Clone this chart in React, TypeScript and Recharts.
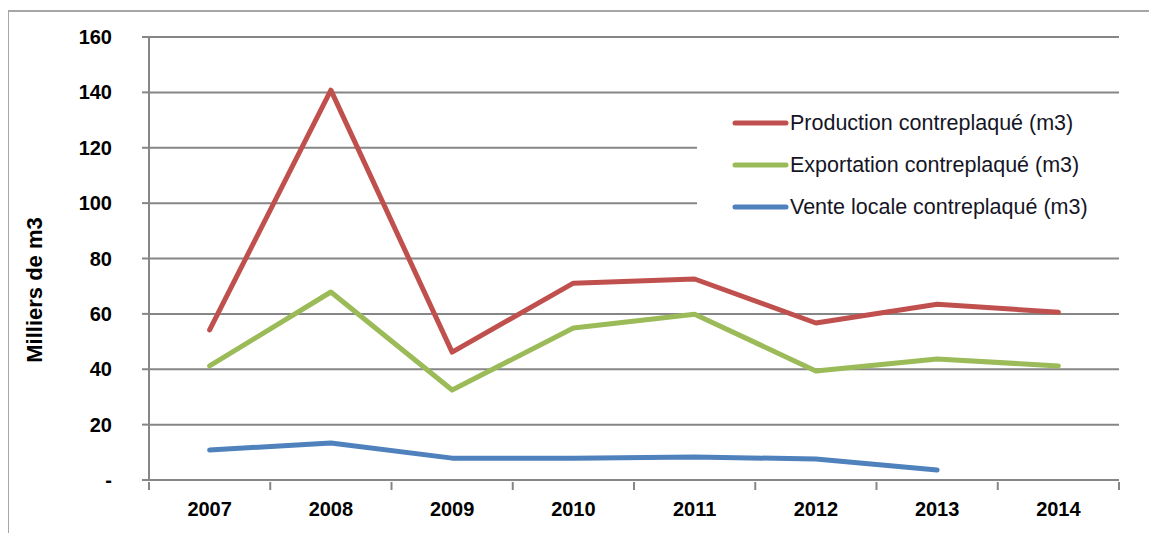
import React from 'react'
import { LineChart, Line, XAxis, YAxis, CartesianGrid, Legend } from 'recharts'

const years = [2007, 2008, 2009, 2010, 2011, 2012, 2013, 2014]
const production = [54.2, 140.8, 46.2, 71.1, 72.6, 56.7, 63.5, 60.6]
const exportation = [41.2, 67.9, 32.5, 54.9, 59.9, 39.4, 43.7, 41.2]
const venteLocale: (number | null)[] = [10.8, 13.4, 7.9, 7.9, 8.3, 7.6, 3.6, null]
const yTicks = [0, 20, 40, 60, 80, 100, 120, 140, 160]
const seriesNames = [
  'Production contreplaqué (m3)',
  'Exportation contreplaqué (m3)',
  'Vente locale contreplaqué (m3)',
]

const data = years.map((year, i) => ({
  year,
  production: production[i],
  exportation: exportation[i],
  vente: venteLocale[i],
}))

const GRID = '#868686'
const FONT = '"Liberation Sans", Arial, sans-serif'

// year label in the middle of each band, tick marks on the band edges (Excel style)
function YearTick(props: any) {
  const { x, y, payload, width, visibleTicksCount, index } = props
  const band = width / visibleTicksCount
  const left = x - band / 2
  return (
    <g>
      <line x1={left} y1={y} x2={left} y2={y + 8} stroke={GRID} strokeWidth={2} />
      {index === visibleTicksCount - 1 && (
        <line x1={left + band} y1={y} x2={left + band} y2={y + 8} stroke={GRID} strokeWidth={2} />
      )}
      <text
        x={x}
        y={y + 20}
        dy="0.71em"
        textAnchor="middle"
        fontFamily={FONT}
        fontSize={20}
        fontWeight="bold"
        fill="#000"
      >
        {payload.value}
      </text>
    </g>
  )
}

function LegendBox({ payload }: any) {
  const items = seriesNames
    .map((n) => (payload || []).find((p: any) => p.value === n))
    .filter(Boolean)
  return (
    <div style={{ paddingTop: 2 }}>
      {items.map((p: any) => (
        <div
          key={p.value}
          style={{ display: 'flex', alignItems: 'center', height: 42 }}
        >
          <svg width={93} height={10} style={{ display: 'block' }}>
            <line
              x1={38}
              y1={5}
              x2={89}
              y2={5}
              stroke={p.color}
              strokeWidth={5}
              strokeLinecap="round"
            />
          </svg>
          <span
            style={{
              fontFamily: FONT,
              fontSize: 21.5,
              color: '#151525',
              whiteSpace: 'nowrap',
            }}
          >
            {p.value}
          </span>
        </div>
      ))}
    </div>
  )
}

export default function App() {
  return (
    <div
      style={{
        position: 'relative',
        left: -8,
        top: -8,
        width: 1157,
        height: 533,
        overflow: 'hidden',
        background: '#fff',
      }}
    >
      <div
        style={{
          position: 'absolute',
          left: 7,
          top: 10,
          width: 1300,
          height: 700,
          border: '2px solid #a6a6a6',
        }}
      />
      <div style={{ position: 'absolute', left: 0, top: 0 }}>
        <LineChart
          width={1157}
          height={533}
          data={data}
          margin={{ top: 37, right: 38, left: 0, bottom: 0 }}
        >
          <CartesianGrid vertical={false} stroke={GRID} strokeWidth={2} />
          <XAxis
            dataKey="year"
            type="number"
            domain={[2006.5, 2014.5]}
            ticks={years}
            height={53}
            interval={0}
            axisLine={{ stroke: GRID, strokeWidth: 2 }}
            tickLine={false}
            tickSize={0}
            tick={<YearTick />}
          />
          <YAxis
            width={149}
            domain={[0, 160]}
            ticks={yTicks}
            interval={0}
            tickSize={7}
            tickMargin={30}
            axisLine={{ stroke: GRID, strokeWidth: 2 }}
            tickLine={{ stroke: GRID, strokeWidth: 2 }}
            tickFormatter={(v: number) => (v === 0 ? '-' : String(v))}
            tick={{ fontSize: 20, fontWeight: 'bold', fill: '#000', fontFamily: FONT }}
            label={{
              content: () => (
                <text
                  x={42}
                  y={290}
                  transform="rotate(-90 42 290)"
                  textAnchor="middle"
                  fontFamily={FONT}
                  fontSize={22}
                  fontWeight="bold"
                  fill="#000"
                >
                  Milliers de m3
                </text>
              ),
            }}
          />
          <Legend
            layout="vertical"
            align="center"
            verticalAlign="middle"
            content={<LegendBox />}
            wrapperStyle={{
              position: 'absolute',
              left: 697,
              top: 100,
              width: 460,
              height: 118,
              background: '#fff',
            }}
          />
          <Line
            dataKey="production"
            name={seriesNames[0]}
            stroke="#C0504D"
            strokeWidth={5}
            strokeLinecap="round"
            strokeLinejoin="round"
            dot={false}
            isAnimationActive={false}
          />
          <Line
            dataKey="exportation"
            name={seriesNames[1]}
            stroke="#9BBB59"
            strokeWidth={5}
            strokeLinecap="round"
            strokeLinejoin="round"
            dot={false}
            isAnimationActive={false}
          />
          <Line
            dataKey="vente"
            name={seriesNames[2]}
            stroke="#4F81BD"
            strokeWidth={5}
            strokeLinecap="round"
            strokeLinejoin="round"
            dot={false}
            isAnimationActive={false}
          />
        </LineChart>
      </div>
    </div>
  )
}
